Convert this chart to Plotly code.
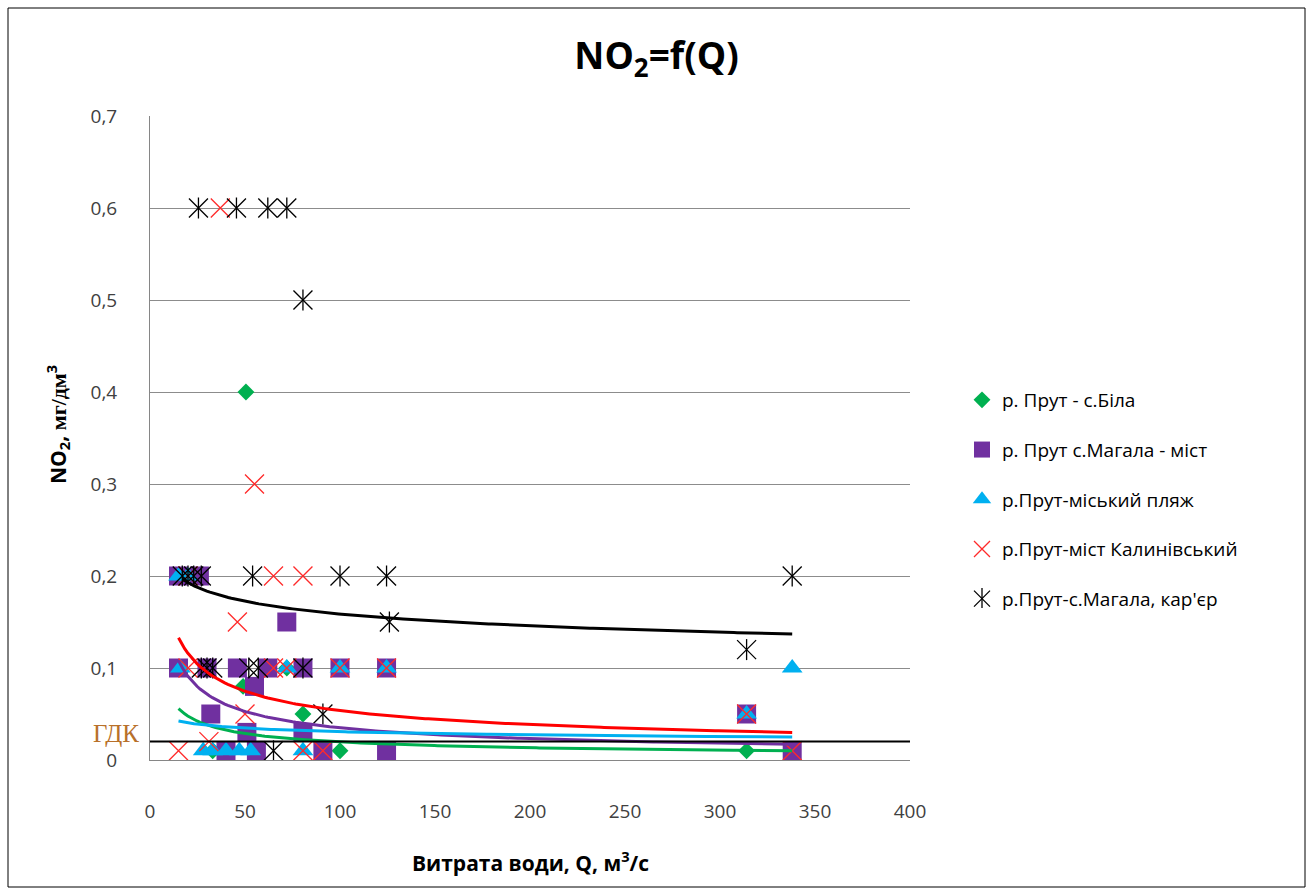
import numpy as np
import plotly.graph_objects as go

# ---------------- data ----------------
series_names = [
    "р. Прут - с.Біла",
    "р. Прут с.Магала - міст",
    "р.Прут-міський пляж",
    "р.Прут-міст Калинівський",
    "р.Прут-с.Магала, кар'єр",
]

Q_bila = [15, 33, 49, 50.5, 72, 80.5, 91, 100, 124.5, 314, 338]
NO2_bila = [0.1, 0.01, 0.08, 0.4, 0.1, 0.05, 0.01, 0.01, 0.01, 0.01, 0.01]

Q_mist = [15, 26, 15, 30, 46, 62, 80.5, 100, 124.5, 72, 55, 32, 314, 80.5, 51, 40, 56, 91, 124.5, 338]
NO2_mist = [0.2, 0.2, 0.1, 0.1, 0.1, 0.1, 0.1, 0.1, 0.1, 0.15, 0.08, 0.05, 0.05, 0.03, 0.03, 0.01, 0.01, 0.01, 0.01, 0.01]

Q_plyazh = [15, 20, 16, 72, 100, 124.5, 338, 314, 28, 33, 40, 47, 53, 80.5]
NO2_plyazh = [0.2, 0.2, 0.1, 0.1, 0.1, 0.1, 0.1, 0.05, 0.01, 0.01, 0.01, 0.01, 0.01, 0.01]

Q_kalyn = [37, 55, 20, 65, 80.5, 46, 20, 65, 72, 100, 124.5, 50, 314, 31, 15, 80.5, 91, 338]
NO2_kalyn = [0.6, 0.3, 0.2, 0.2, 0.2, 0.15, 0.1, 0.1, 0.1, 0.1, 0.1, 0.05, 0.05, 0.02, 0.01, 0.01, 0.01, 0.01]

Q_karier = [25.5, 45.5, 62, 72, 80.5, 17, 20, 23, 27, 54, 100, 124.5, 338, 126, 314, 27, 30, 33, 52, 57, 80.5, 91, 65]
NO2_karier = [0.6, 0.6, 0.6, 0.6, 0.5, 0.2, 0.2, 0.2, 0.2, 0.2, 0.2, 0.2, 0.2, 0.15, 0.12, 0.1, 0.1, 0.1, 0.1, 0.1, 0.1, 0.05, 0.01]

# power trendlines y = a * Q^b (Excel-style), coefficients
trend_a = [0.25, 0.537, 0.0673, 0.485, 0.277]
trend_b = [-0.553, -0.593, -0.17, -0.478, -0.121]

GDK = 0.02  # limit line
GDK_label = "ГДК"

x_ticks = [0, 50, 100, 150, 200, 250, 300, 350, 400]
y_ticks = [0, 0.1, 0.2, 0.3, 0.4, 0.5, 0.6, 0.7]

# ---------------- styling ----------------
colors = ["#00B050", "#7030A0", "#00B0F0", "#FF2A2A", "#000000"]
trend_colors = ["#00B050", "#7030A0", "#00B0F0", "#FF0000", "#000000"]
FONT = "Open Sans"

W, H = 1313, 895
L, R, T, B = 150, 910, 116, 760  # plot-area pixel box

fig = go.Figure()

Qs = [Q_bila, Q_mist, Q_plyazh, Q_kalyn, Q_karier]
Vs = [NO2_bila, NO2_mist, NO2_plyazh, NO2_kalyn, NO2_karier]

marker_defs = [
    dict(symbol="diamond", size=13, color=colors[0], line=dict(width=0)),
    dict(symbol="square", size=19, color=colors[1], line=dict(width=0)),
    dict(symbol="triangle-up", size=18, color=colors[2], line=dict(width=0)),
    dict(symbol="x-thin-open", size=19, color=colors[3], line=dict(width=1.3, color=colors[3])),
    dict(symbol="x-thin-open", size=19, color=colors[4], line=dict(width=1.3, color=colors[4])),
]

for i in range(5):
    fig.add_trace(go.Scatter(
        x=Qs[i], y=Vs[i], mode="markers", name=series_names[i],
        legendgroup=f"g{i}", marker=marker_defs[i], cliponaxis=False,
    ))
    if i == 4:
        # vertical stroke of the Excel star marker
        fig.add_trace(go.Scatter(
            x=Qs[i], y=Vs[i], mode="markers", name=series_names[i],
            legendgroup=f"g{i}", showlegend=False, hoverinfo="skip",
            marker=dict(symbol="line-ns-open", size=15, color="#000",
                        line=dict(width=1.3, color="#000")),
        ))

for i in range(5):
    qmin, qmax = min(Qs[i]), max(Qs[i])
    qq = np.linspace(qmin, qmax, 200)
    fig.add_trace(go.Scatter(
        x=qq, y=trend_a[i] * qq ** trend_b[i], mode="lines",
        line=dict(color=trend_colors[i], width=3), showlegend=False,
        hoverinfo="skip",
    ))

def px_x(p):
    return (p - L) / (R - L)

def px_y(p):
    return (B - p) / (B - T)

LEG_TOP = 381
LEG_STEP = 49.5
star_leg_y = LEG_TOP + 19 + 4 * LEG_STEP  # centre of the 5th legend item

shapes = [
    dict(type="line", xref="x", yref="y", x0=0, x1=400, y0=GDK, y1=GDK,
         line=dict(color="#000", width=2), layer="above"),
    dict(type="rect", xref="paper", yref="paper",
         x0=px_x(8), x1=px_x(1305), y0=px_y(887), y1=px_y(8),
         line=dict(color="#000", width=1), layer="below"),
    # vertical stroke of the star symbol in the legend
    dict(type="line", xref="paper", yref="paper",
         x0=px_x(982), x1=px_x(982), y0=px_y(star_leg_y - 10), y1=px_y(star_leg_y + 10),
         line=dict(color="#000", width=1.3), layer="above"),
]

annotations = [
    dict(text=GDK_label, xref="paper", yref="y", x=px_x(116), y=0.029,
         showarrow=False, font=dict(family="Liberation Serif", size=25, color="#B8702A"),
         xanchor="center", yanchor="middle"),
    dict(text="<b>Витрата води, Q, м<sup>3</sup>/с</b>", xref="paper", yref="paper",
         x=0.5, y=px_y(862), showarrow=False,
         font=dict(family=FONT, size=21, color="#000"), xanchor="center", yanchor="middle"),
    dict(text="<b>NO<sub>2</sub>, <span style='font-family:Liberation Serif;font-size:22px'>мг/дм</span><sup>3</sup></b>",
         xref="paper", yref="paper", x=px_x(57), y=px_y(425), textangle=-90,
         showarrow=False, font=dict(family=FONT, size=21, color="#000"),
         xanchor="center", yanchor="middle"),
]

fig.update_layout(
    width=W, height=H,
    margin=dict(l=L, r=W - R, t=T, b=H - B, pad=0),
    paper_bgcolor="white", plot_bgcolor="white",
    separators=", ",
    title=dict(text="<b>NO<sub>2</sub>=f(Q)</b>", x=0.5, xanchor="center",
               y=1 - 56 / H, yanchor="middle", yref="container",
               font=dict(family=FONT, size=37, color="#000")),
    xaxis=dict(range=[0, 400], tickvals=x_ticks, showgrid=False, zeroline=False,
               showline=True, linecolor="#868686", linewidth=1, ticks="",
               tickfont=dict(family=FONT, size=19, color="#404040"),
               ticklabelstandoff=34, fixedrange=True),
    yaxis=dict(range=[0, 0.7], tickvals=y_ticks, showgrid=True, gridcolor="#8c8c8c",
               gridwidth=1, zeroline=False, showline=True, linecolor="#868686",
               linewidth=1, ticks="",
               tickfont=dict(family=FONT, size=19, color="#404040"),
               ticklabelstandoff=28, fixedrange=True),
    legend=dict(x=px_x(962), y=px_y(LEG_TOP), xanchor="left", yanchor="top",
                font=dict(family=FONT, size=19, color="#000"),
                tracegroupgap=22, bgcolor="rgba(0,0,0,0)"),
    shapes=shapes, annotations=annotations,
    showlegend=True,
)

fig.write_html("out.html")
